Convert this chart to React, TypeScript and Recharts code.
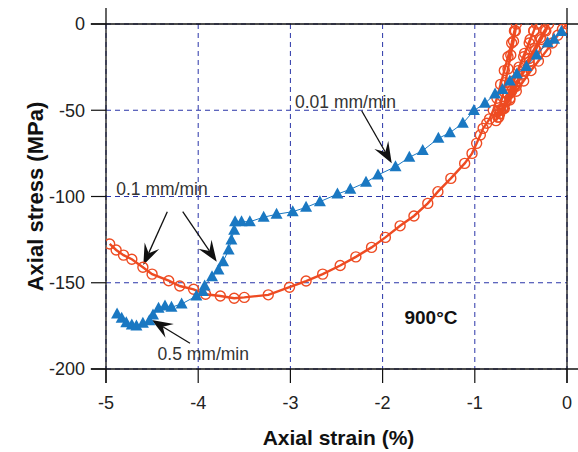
import React from 'react';
import {
  ScatterChart,
  Scatter,
  XAxis,
  YAxis,
  CartesianGrid,
  ReferenceLine,
  ReferenceDot,
} from 'recharts';

// ---- axis ticks ----
const strainTicks = [-5, -4, -3, -2, -1, 0];
const stressTicks = [-200, -150, -100, -50, 0];

// ---- 0.1 mm/min series (orange open circles): [strain %, stress MPa] ----
const rate01Loops: [number, number][] = [
  [0, 0], [-0.05, -3], [-0.1, -6.5], [-0.16, -11], [-0.23, -16], [-0.31, -21.5], [-0.39, -27],
  [-0.47, -33], [-0.55, -39], [-0.62, -44], [-0.69, -49], [-0.75, -54],
  [-0.72, -50], [-0.66, -45], [-0.6, -39], [-0.54, -33], [-0.47, -27], [-0.41, -20], [-0.35, -14],
  [-0.29, -8], [-0.24, -3.5], [-0.2, 0],
  [-0.23, -4], [-0.28, -9], [-0.34, -15], [-0.41, -22], [-0.48, -29], [-0.55, -36], [-0.62, -43],
  [-0.68, -49], [-0.74, -54],
  [-0.7, -49], [-0.64, -41], [-0.58, -33], [-0.52, -25], [-0.46, -17], [-0.4, -9], [-0.36, -4], [-0.33, 0],
  [-0.36, -4], [-0.41, -11], [-0.47, -19], [-0.53, -27], [-0.6, -36], [-0.67, -45], [-0.73, -52], [-0.77, -56],
  [-0.74, -50], [-0.7, -42], [-0.67, -34], [-0.64, -26], [-0.61, -18], [-0.58, -10], [-0.56, -4], [-0.55, 0],
  [-0.57, -4], [-0.6, -11], [-0.64, -19], [-0.68, -27], [-0.72, -35], [-0.76, -43], [-0.8, -50], [-0.84, -55],
];
const rate01Main: [number, number][] = [
  [-0.87, -57.5], [-0.91, -60.5], [-0.94, -64.3], [-0.98, -69.2], [-1.03, -75], [-1.11, -80.8],
  [-1.26, -89.5], [-1.4, -97.2], [-1.51, -104], [-1.66, -111.3], [-1.81, -117], [-1.97, -123.7],
  [-2.12, -129.5], [-2.29, -135], [-2.46, -140], [-2.65, -145], [-2.83, -149], [-3.01, -152.6],
  [-3.24, -157], [-3.5, -158.5], [-3.61, -159], [-3.76, -157.7], [-3.92, -156.7], [-4.05, -153.8],
  [-4.2, -151.9], [-4.32, -148.8], [-4.5, -145], [-4.6, -141], [-4.72, -136.4], [-4.81, -134],
  [-4.89, -131], [-4.96, -127.5],
];

// ---- 0.01 / 0.1 / 0.5 mm/min series (blue triangles) ----
const rateStepped: [number, number][] = [
  [-0.06, -4.4], [-0.14, -8.9], [-0.21, -10.8], [-0.33, -18], [-0.44, -24.7], [-0.545, -29],
  [-0.62, -33], [-0.7, -37.9], [-0.78, -40.6], [-0.89, -46], [-1.01, -50.2], [-1.13, -57.6],
  [-1.27, -63], [-1.395, -66.3], [-1.565, -73.4], [-1.71, -77.3], [-1.86, -82.7], [-2.05, -87.5],
  [-2.18, -91.8], [-2.35, -95.8], [-2.49, -98.6], [-2.68, -103], [-2.83, -106.3], [-2.975, -108.8],
  [-3.15, -110.3], [-3.29, -112], [-3.44, -114.6], [-3.53, -114.6], [-3.6, -114.6], [-3.61, -119.5],
  [-3.64, -125.2], [-3.67, -131], [-3.73, -137.8], [-3.78, -142.6], [-3.85, -146.5], [-3.93, -151.9],
  [-3.95, -155], [-4.02, -157.7], [-4.18, -162.3], [-4.29, -164.2], [-4.36, -163.5], [-4.43, -164.8],
  [-4.49, -168.7], [-4.53, -172], [-4.6, -173.5], [-4.67, -175], [-4.72, -174.5], [-4.78, -173.2],
  [-4.83, -170.6], [-4.88, -168.1],
];

// ---- annotations ----
const textNotes = [
  { text: '0.01 mm/min', x: -2.402, y: -45.0, bold: false, size: 17.5 },
  { text: '0.1 mm/min', x: -4.393, y: -95.5, bold: false, size: 17.5 },
  { text: '0.5 mm/min', x: -3.945, y: -191.3, bold: false, size: 17.5 },
  { text: '900°C', x: -1.475, y: -170.4, bold: true, size: 19 },
];
const arrowNotes: { from: [number, number]; to: [number, number] }[] = [
  { from: [-2.227, -50.3], to: [-1.901, -80.75] },
  { from: [-4.335, -108.8], to: [-4.595, -139.7] },
  { from: [-4.168, -108.8], to: [-3.799, -137.8] },
  { from: [-4.089, -185.1], to: [-4.504, -171.6] },
];

// frame line extents (axis lines run past the plot corners)
const frameStrain = [-5.165, 0.12];
const frameStress = [9.3, -208.1];

const ORANGE = '#ee4b22';
const BLUE = '#1a78c2';
const GRID = '#2a35a8';
const FONT = "'Liberation Sans', Arial, Helvetica, sans-serif";

const toPts = (a: [number, number][]) => a.map(([x, y]) => ({ x, y }));
const orangeData = toPts([...rate01Loops, ...rate01Main]);
const blueData = toPts(rateStepped);

const OpenCircle = (p: any) =>
  p.cx == null ? null : (
    <circle cx={p.cx} cy={p.cy} r={5} fill="none" stroke={ORANGE} strokeWidth={1.4} />
  );

const Triangle = (p: any) => {
  if (p.cx == null) return null;
  const { cx, cy } = p;
  return (
    <polygon
      points={`${cx},${cy - 6.5} ${cx + 6},${cy + 4.5} ${cx - 6},${cy + 4.5}`}
      fill={BLUE}
    />
  );
};

const ArrowShape = (p: any) => {
  const { x1, y1, x2, y2 } = p;
  const dx = x2 - x1;
  const dy = y2 - y1;
  const L = Math.hypot(dx, dy) || 1;
  const ux = dx / L;
  const uy = dy / L;
  const nx = -uy;
  const ny = ux;
  const len = 21;
  const hw = 8;
  const notch = 13;
  const bx = x2 - ux * len;
  const by = y2 - uy * len;
  const w1x = bx + nx * hw;
  const w1y = by + ny * hw;
  const w2x = bx - nx * hw;
  const w2y = by - ny * hw;
  const nX = x2 - ux * notch;
  const nY = y2 - uy * notch;
  return (
    <g>
      <line x1={x1} y1={y1} x2={nX} y2={nY} stroke="#111" strokeWidth={1.3} />
      <polygon points={`${x2},${y2} ${w1x},${w1y} ${nX},${nY} ${w2x},${w2y}`} fill="#111" />
    </g>
  );
};

const makeText = (text: string, bold: boolean, size: number) => (p: any) =>
  (
    <text
      x={p.cx}
      y={p.cy}
      textAnchor="middle"
      dominantBaseline="central"
      fontSize={size}
      fontWeight={bold ? 'bold' : 'normal'}
      fill={bold ? '#111' : '#333'}
      fontFamily={FONT}
    >
      {text}
    </text>
  );

const YTitle = (props: any) => {
  const vb = props.viewBox || { x: 0, y: 24, width: 106, height: 345 };
  const cx = vb.x + 35;
  const cy = vb.y + vb.height / 2;
  return (
    <text
      x={cx}
      y={cy}
      transform={`rotate(-90 ${cx} ${cy})`}
      textAnchor="middle"
      dominantBaseline="central"
      fontSize={22}
      fontWeight="bold"
      fill="#111"
      fontFamily={FONT}
    >
      Axial stress (MPa)
    </text>
  );
};

const XTitle = (props: any) => {
  const vb = props.viewBox || { x: 106, y: 369, width: 461, height: 83 };
  const cx = vb.x + vb.width / 2 + 2;
  const cy = vb.y + 68;
  return (
    <text
      x={cx}
      y={cy}
      textAnchor="middle"
      dominantBaseline="central"
      fontSize={21}
      fontWeight="bold"
      fill="#111"
      fontFamily={FONT}
    >
      Axial strain (%)
    </text>
  );
};

export default function App() {
  const tickStyle = { fill: '#222', fontSize: 18, fontFamily: FONT };
  return (
    <div style={{ position: 'absolute', left: 0, top: 0, fontFamily: FONT }}>
      <ScatterChart width={578} height={452} margin={{ top: 0, right: 0, bottom: 0, left: 0 }}>
        <CartesianGrid
          xAxisId="b"
          yAxisId="l"
          stroke={GRID}
          strokeDasharray="5 4"
          strokeWidth={1}
        />
        <XAxis
          xAxisId="b"
          type="number"
          dataKey="x"
          domain={[-5, 0]}
          ticks={strainTicks}
          allowDataOverflow
          orientation="bottom"
          height={83}
          tickSize={14}
          tickMargin={13}
          axisLine={false}
          tickLine={{ stroke: '#111', strokeWidth: 1.2 }}
          tick={tickStyle}
          label={{ content: XTitle }}
        />
        <XAxis
          xAxisId="t"
          type="number"
          dataKey="x"
          domain={[-5, 0]}
          ticks={strainTicks}
          allowDataOverflow
          orientation="top"
          height={24}
          tickSize={16}
          axisLine={false}
          tickLine={{ stroke: '#111', strokeWidth: 1.2 }}
          tick={false}
        />
        <YAxis
          yAxisId="l"
          type="number"
          dataKey="y"
          domain={[-200, 0]}
          ticks={stressTicks}
          allowDataOverflow
          width={106}
          tickSize={15}
          tickMargin={6}
          axisLine={false}
          tickLine={{ stroke: '#111', strokeWidth: 1.2 }}
          tick={tickStyle}
          label={{ content: YTitle }}
        />
        <YAxis
          yAxisId="r"
          type="number"
          dataKey="y"
          orientation="right"
          domain={[-200, 0]}
          ticks={stressTicks}
          allowDataOverflow
          width={11}
          tickSize={11}
          axisLine={false}
          tickLine={{ stroke: '#111', strokeWidth: 1.2 }}
          tick={false}
        />

        {/* frame lines extended past the corners */}
        <ReferenceLine
          xAxisId="b"
          yAxisId="l"
          ifOverflow="visible"
          segment={[{ x: frameStrain[0], y: 0 }, { x: frameStrain[1], y: 0 }]}
          stroke="#111"
          strokeWidth={1.3}
        />
        <ReferenceLine
          xAxisId="b"
          yAxisId="l"
          ifOverflow="visible"
          segment={[{ x: frameStrain[0], y: -200 }, { x: frameStrain[1], y: -200 }]}
          stroke="#111"
          strokeWidth={1.3}
        />
        <ReferenceLine
          xAxisId="b"
          yAxisId="l"
          ifOverflow="visible"
          segment={[{ x: -5, y: frameStress[0] }, { x: -5, y: frameStress[1] }]}
          stroke="#111"
          strokeWidth={1.3}
        />
        <ReferenceLine
          xAxisId="b"
          yAxisId="l"
          ifOverflow="visible"
          segment={[{ x: 0, y: frameStress[0] }, { x: 0, y: frameStress[1] }]}
          stroke="#111"
          strokeWidth={1.3}
        />

        {/* hidden helper so top/right axes have a series */}
        <Scatter
          xAxisId="t"
          yAxisId="r"
          data={blueData}
          shape={() => null}
          isAnimationActive={false}
        />

        <Scatter
          xAxisId="b"
          yAxisId="l"
          data={orangeData}
          line={{ stroke: ORANGE, strokeWidth: 2.4 }}
          lineType="joint"
          shape={OpenCircle}
          isAnimationActive={false}
        />
        <Scatter
          xAxisId="b"
          yAxisId="l"
          data={blueData}
          line={{ stroke: BLUE, strokeWidth: 1 }}
          lineType="joint"
          shape={Triangle}
          isAnimationActive={false}
        />

        {arrowNotes.map((a, i) => (
          <ReferenceLine
            key={'arr' + i}
            xAxisId="b"
            yAxisId="l"
            ifOverflow="visible"
            segment={[{ x: a.from[0], y: a.from[1] }, { x: a.to[0], y: a.to[1] }]}
            shape={ArrowShape}
          />
        ))}
        {textNotes.map((t, i) => (
          <ReferenceDot
            key={'txt' + i}
            xAxisId="b"
            yAxisId="l"
            x={t.x}
            y={t.y}
            r={0}
            ifOverflow="visible"
            shape={makeText(t.text, t.bold, t.size)}
          />
        ))}
      </ScatterChart>
    </div>
  );
}
